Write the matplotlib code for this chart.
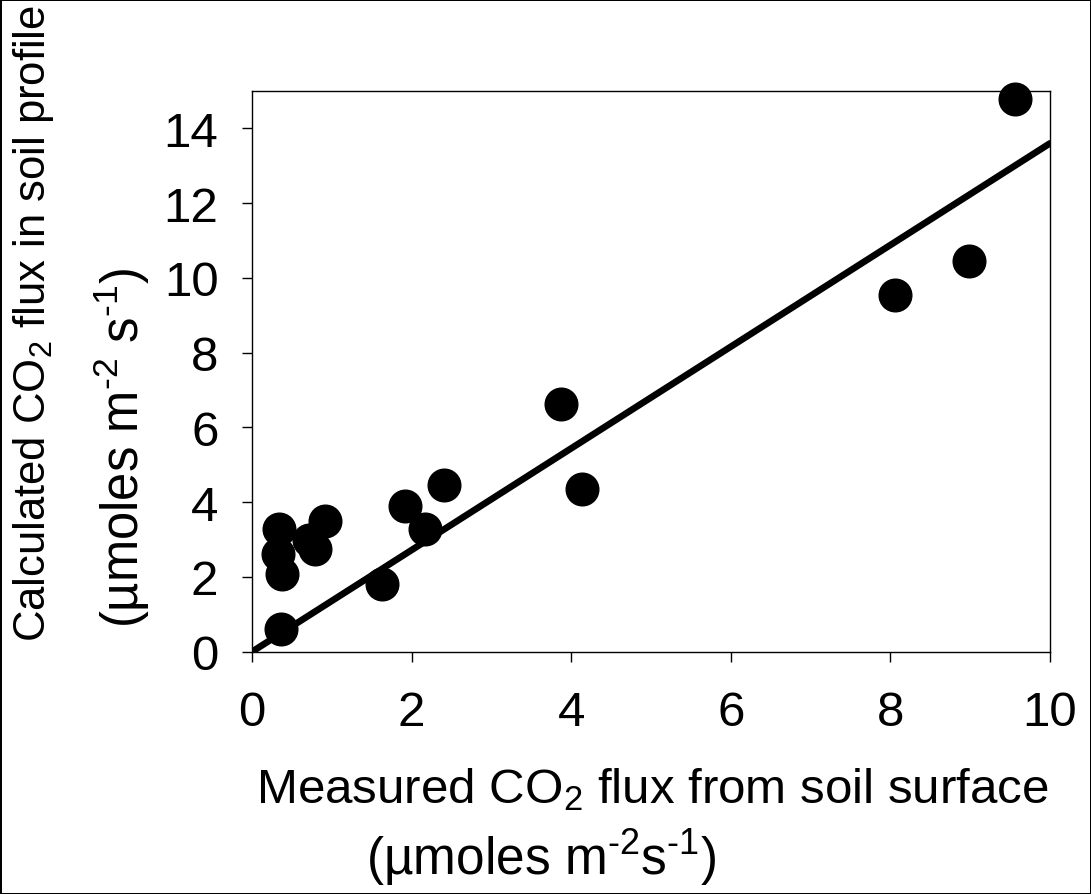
import matplotlib

matplotlib.use('Agg')
import matplotlib.pyplot as plt

plt.rcParams['font.family'] = ['Liberation Sans', 'DejaVu Sans']
plt.rcParams['mathtext.fontset'] = 'custom'
plt.rcParams['mathtext.rm'] = 'Liberation Sans'
plt.rcParams['mathtext.it'] = 'Liberation Sans'
plt.rcParams['mathtext.default'] = 'regular'
plt.rcParams['xtick.direction'] = 'out'
plt.rcParams['ytick.direction'] = 'out'
plt.rcParams['axes.linewidth'] = 1.0

# measured surface flux vs calculated profile flux (umol m-2 s-1)
measured = [0.34, 0.33, 0.37, 0.91, 0.79, 0.72, 0.36, 1.63, 1.92, 2.17,
            2.40, 3.87, 4.13, 8.06, 8.98, 9.56]
calculated = [3.28, 2.62, 2.08, 3.51, 2.75, 3.00, 0.60, 1.80, 3.90, 3.29,
              4.47, 6.64, 4.34, 9.54, 10.45, 14.79]

# regression line
fit_slope = 1.36
fit_intercept = 0.0
fit_range = [0, 10]

x_ticks = [0, 2, 4, 6, 8, 10]
y_ticks = [0, 2, 4, 6, 8, 10, 12, 14]

FS = 35.5


def main():
    fig = plt.figure(figsize=(10.91, 8.95), dpi=100, facecolor='w',
                     edgecolor='black', linewidth=2)
    ax = fig.add_axes([0.231, 0.2707, 0.7314, 0.6265])

    fit_y = [fit_slope * v + fit_intercept for v in fit_range]
    ax.plot(fit_range, fit_y, color='black', lw=4.8, solid_capstyle='round',
            zorder=2)
    ax.plot(measured, calculated, 'o', color='black', markersize=23.5,
            clip_on=False, zorder=3)

    ax.set_xlim(0, 10)
    ax.set_ylim(0, 15)
    ax.set_xticks(x_ticks)
    ax.set_yticks(y_ticks)
    ax.tick_params(axis='both', length=7.2, width=1, labelsize=FS)
    ax.tick_params(axis='x', pad=20)
    ax.tick_params(axis='y', pad=17)

    fig.text(652 / 1091, 1 - 790 / 895,
             'Measured CO$_2$ flux from soil surface',
             fontsize=FS, ha='center', va='center')
    fig.text(541 / 1091, 1 - 858 / 895,
             r'(µmoles m$^{\text{-}2}$s$^{\text{-}1}$)',
             fontsize=37, ha='center', va='center')

    fig.text(34 / 1091, 1 - 323 / 895,
             'Calculated CO$_2$ flux in soil profile',
             fontsize=31.4, ha='center', va='center', rotation=90)
    fig.text(122 / 1091, 1 - 448 / 895,
             r'(µmoles m$^{\text{-}2}$ s$^{\text{-}1}$)',
             fontsize=36.5, ha='center', va='center', rotation=90)

    fig.savefig('out.png', dpi=100, facecolor='w', edgecolor='black')


if __name__ == '__main__':
    main()
